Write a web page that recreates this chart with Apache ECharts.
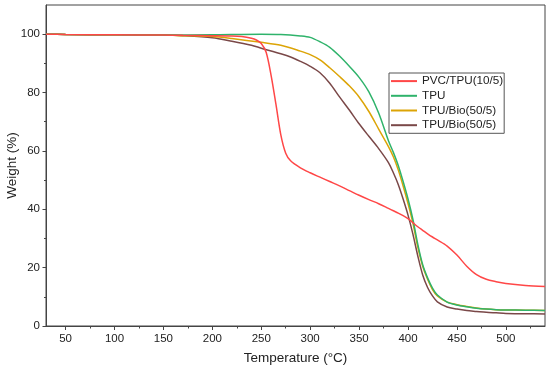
<!DOCTYPE html>
<html>
<head>
<meta charset="utf-8">
<script src="https://cdn.jsdelivr.net/npm/echarts@6/dist/echarts.min.js"></script>
<style>html,body{margin:0;padding:0;background:#fff}#c{width:550px;height:369px}</style>
</head>
<body>
<div id="c"></div>
<script>
const seriesNames = ['PVC/TPU(10/5)', 'TPU', 'TPU/Bio(50/5)', 'TPU/Bio(50/5)\u200b'];
const xTicks = [50, 100, 150, 200, 250, 300, 350, 400, 450, 500];
const xMinorTicks = [75, 125, 175, 225, 275, 325, 375, 425, 475, 525];
const yTicks = [0, 20, 40, 60, 80, 100];
const yMinorTicks = [10, 30, 50, 70, 90];

const tempPVC = [30, 50, 100, 150, 170, 200, 220, 230, 240, 245, 250, 255, 260, 265, 270, 275, 280, 290, 300, 310, 320, 330, 340, 350, 360, 370, 380, 385, 390, 395, 400, 405, 410, 415, 420, 425, 430, 440, 450, 460, 470, 480, 490, 500, 520, 540];
const wPVC = [100, 99.9, 99.8, 99.7, 99.6, 99.5, 99.4, 99.2, 98.6, 98.0, 96.8, 93.8, 86, 76, 65.5, 59.2, 56.6, 54.2, 52.5, 51, 49.5, 48, 46.4, 44.8, 43.3, 41.9, 40.3, 39.5, 38.7, 37.8, 36.8, 35.4, 34, 32.8, 31.6, 30.5, 29.5, 27.4, 24.3, 20.5, 17.6, 16, 15.2, 14.6, 13.9, 13.5];

const tempTPU = [30, 50, 100, 150, 200, 250, 270, 290, 300, 310, 320, 330, 340, 350, 360, 370, 380, 385, 390, 395, 400, 405, 410, 415, 420, 425, 430, 440, 450, 460, 470, 480, 490, 500, 520, 540];
const wTPU = [100, 99.9, 99.8, 99.7, 99.8, 100, 99.9, 99.4, 98.9, 97.4, 95.5, 92.5, 89, 85.2, 80.2, 73, 63.5, 59.5, 55, 49.5, 43.5, 36.5, 28, 21, 16.5, 13, 10.6, 8.2, 7.2, 6.6, 6.1, 5.8, 5.6, 5.5, 5.4, 5.3];

const tempBio1 = [30, 50, 100, 150, 170, 200, 220, 250, 270, 290, 300, 310, 320, 330, 340, 350, 360, 370, 380, 385, 390, 395, 400, 405, 410, 415, 420, 425, 430, 440, 450, 460, 470, 480, 490, 500, 520, 540];
const wBio1 = [100, 99.9, 99.8, 99.7, 99.5, 99.2, 98.5, 97.2, 96.2, 94.2, 93, 91.2, 88.5, 85.5, 82.3, 78.5, 73.5, 67.5, 61.5, 58, 53.5, 48, 42, 35.3, 27, 20.5, 16, 12.5, 10.3, 8.2, 7.3, 6.7, 6.2, 5.8, 5.6, 5.5, 5.4, 5.3];

const tempBio2 = [30, 50, 100, 150, 170, 200, 220, 240, 250, 270, 280, 290, 300, 310, 320, 330, 340, 350, 360, 370, 380, 385, 390, 395, 400, 405, 410, 415, 420, 425, 430, 440, 450, 460, 470, 480, 490, 500, 520, 540];
const wBio2 = [100, 99.9, 99.8, 99.7, 99.5, 98.8, 97.6, 96.2, 95.2, 93.3, 92.2, 90.7, 89, 86.8, 83.2, 78.5, 74, 69.3, 65, 60.8, 56, 52.5, 48.5, 43.5, 38, 31.5, 24, 17.5, 13.2, 10.3, 8.3, 6.5, 5.8, 5.3, 5, 4.7, 4.5, 4.3, 4.2, 4.1];

const colors = ['#ff4747', '#2fb36b', '#dca406', '#7a4848'];
const temps = [tempPVC, tempTPU, tempBio1, tempBio2];
const weights = [wPVC, wTPU, wBio1, wBio2];

const font = 'Liberation Sans, Arial, sans-serif';
const chart = echarts.init(document.getElementById('c'), null, {renderer: 'canvas'});

const series = seriesNames.map((name, i) => ({
  name: name,
  type: 'line',
  xAxisIndex: 0,
  yAxisIndex: 0,
  data: temps[i].map((t, k) => [t, weights[i][k]]),
  showSymbol: false,
  symbol: 'none',
  smooth: 0.3,
  lineStyle: {color: colors[i], width: 1.5},
  itemStyle: {color: colors[i]},
  z: 10 - i
}));

chart.setOption({
  animation: false,
  backgroundColor: '#fff',
  grid: {left: 46, right: 5, top: 5, bottom: 43, outerBoundsMode: 'none', containLabel: false, show: true, borderColor: '#444', borderWidth: 1, backgroundColor: 'transparent'},
  legend: {
    orient: 'vertical',
    left: 389,
    top: 73,
    padding: [1, 1, 1, 2],
    itemGap: 0.5,
    itemWidth: 26,
    itemHeight: 2,
    icon: 'rect',
    borderColor: '#555',
    borderWidth: 1,
    textStyle: {fontFamily: font, fontSize: 11.7, color: '#222', lineHeight: 14.2},
    data: seriesNames.map((n, i) => ({name: n, itemStyle: {color: colors[i]}}))
  },
  xAxis: [{
    type: 'value', min: 30, max: 540,
    name: 'Temperature (°C)', nameLocation: 'middle', nameGap: 25, nameMoveOverlap: false,
    nameTextStyle: {fontFamily: font, fontSize: 13.5, color: '#222'},
    axisLine: {show: true, lineStyle: {color: '#444', width: 1}},
    axisTick: {show: true, inside: false, length: 4, customValues: xTicks, lineStyle: {color: '#444'}},
    axisLabel: {show: true, customValues: xTicks, margin: 7, fontFamily: font, fontSize: 11.5, color: '#222'},
    splitLine: {show: false}
  }, {
    type: 'value', min: 30, max: 540, position: 'bottom',
    axisLine: {show: false},
    axisTick: {show: true, inside: false, length: 2.5, customValues: xMinorTicks, lineStyle: {color: '#444'}},
    axisLabel: {show: false},
    splitLine: {show: false}
  }],
  yAxis: [{
    type: 'value', min: 0, max: 110,
    name: 'Weight (%)', nameLocation: 'middle', nameGap: 27, nameMoveOverlap: false,
    nameTextStyle: {fontFamily: font, fontSize: 13.5, color: '#222'},
    axisLine: {show: true, lineStyle: {color: '#444', width: 1}},
    axisTick: {show: true, inside: false, length: 3.5, customValues: yTicks, lineStyle: {color: '#444'}},
    axisLabel: {show: true, customValues: yTicks, margin: 6, fontFamily: font, fontSize: 11.5, color: '#222'},
    splitLine: {show: false}
  }, {
    type: 'value', min: 0, max: 110, position: 'left',
    axisLine: {show: false},
    axisTick: {show: true, inside: false, length: 2, customValues: yMinorTicks, lineStyle: {color: '#444'}},
    axisLabel: {show: false},
    splitLine: {show: false}
  }],
  series: series
});
</script>
</body>
</html>
